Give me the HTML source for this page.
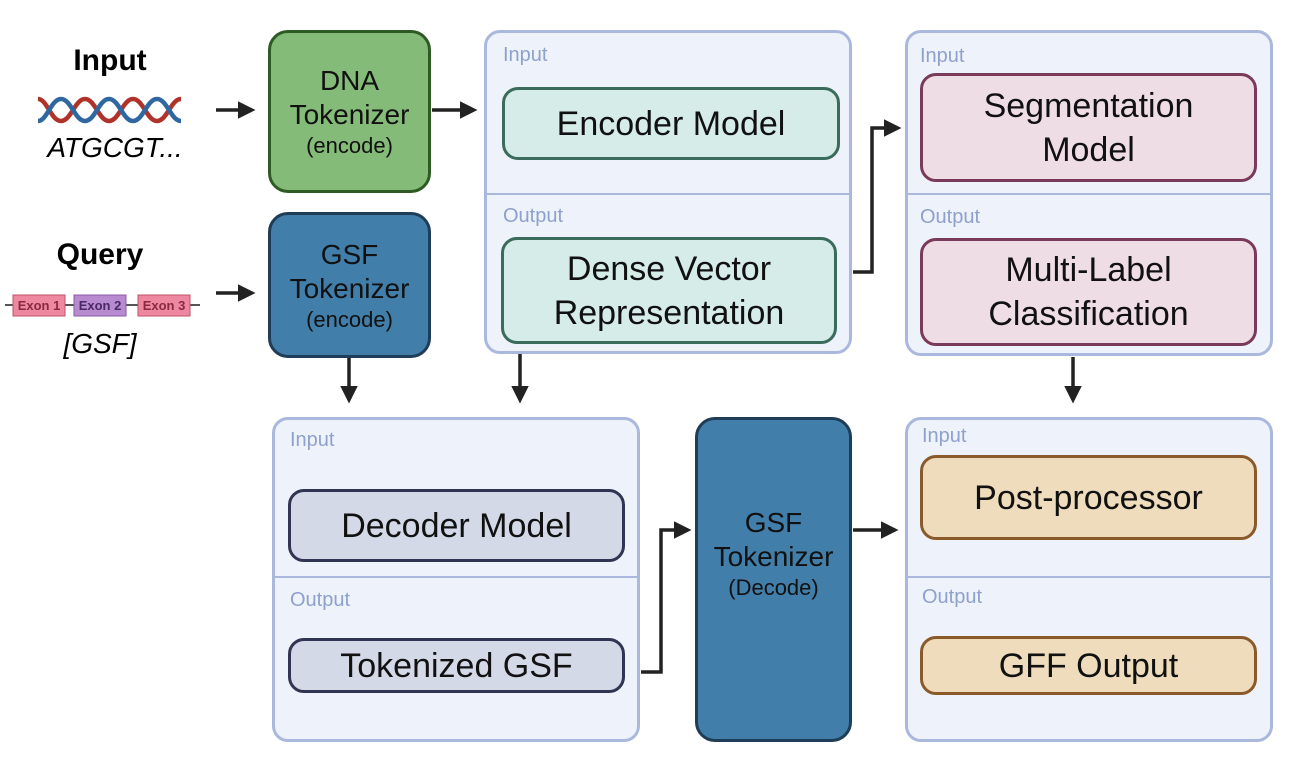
<!DOCTYPE html>
<html><head><style>
body{margin:0;width:1294px;height:770px;background:#fff;position:relative;overflow:hidden;font-family:"Liberation Sans",sans-serif;}
.a{position:absolute;box-sizing:border-box;}
.panel{background:#eef2fa;border:3px solid #a9b8dc;border-radius:16px;}
.div{position:absolute;left:0;right:0;height:0;border-top:2.5px solid #a9b8dc;}
.lab{position:absolute;color:#8ea0cc;font-size:20px;}
.box{display:flex;align-items:center;justify-content:center;text-align:center;border-width:3px;border-style:solid;border-radius:16px;font-size:34px;line-height:44px;color:#111;}
.tok{display:flex;flex-direction:column;align-items:center;justify-content:center;text-align:center;border:3px solid;border-radius:20px;color:#111;font-size:28px;line-height:34px;}
.tok small{font-size:22px;line-height:27px;}
</style></head><body>
<div class="a" style="left:40px;top:44px;width:140px;text-align:center;font-weight:bold;font-size:30px">Input</div>
<svg class="a" style="left:37px;top:94px" width="146" height="32">
<path d="M1 5 C10 5 14 27 24 27 C34 27 38 5 48 5 C58 5 62 27 72 27 C82 27 86 5 96 5 C106 5 110 27 120 27 C130 27 134 5 144 5" stroke="#b0332a" stroke-width="4.5" fill="none"/>
<path d="M1 27 C10 27 14 5 24 5 C34 5 38 27 48 27 C58 27 62 5 72 5 C82 5 86 27 96 27 C106 27 110 5 120 5 C130 5 134 27 144 27" stroke="#2f67a0" stroke-width="4.5" fill="none"/></svg>
<div class="a" style="left:30px;top:132px;width:170px;text-align:center;font-style:italic;font-size:28px">ATGCGT...</div>
<div class="a" style="left:30px;top:238px;width:140px;text-align:center;font-weight:bold;font-size:30px">Query</div>
<svg class="a" style="left:4px;top:289px" width="196" height="32">
<line x1="1" y1="16" x2="196" y2="16" stroke="#555" stroke-width="2"/>
<rect x="9" y="6" width="52" height="21" fill="#ee88a0" stroke="#c0506a"/><text x="35" y="21" font-size="13" font-weight="bold" text-anchor="middle" fill="#8a2a40" font-family="Liberation Sans">Exon 1</text>
<rect x="70" y="6" width="52" height="21" fill="#b88ad0" stroke="#8a5aa8"/><text x="96" y="21" font-size="13" font-weight="bold" text-anchor="middle" fill="#4a2a66" font-family="Liberation Sans">Exon 2</text>
<rect x="134" y="6" width="52" height="21" fill="#ee88a0" stroke="#c0506a"/><text x="160" y="21" font-size="13" font-weight="bold" text-anchor="middle" fill="#8a2a40" font-family="Liberation Sans">Exon 3</text></svg>
<div class="a" style="left:30px;top:328px;width:140px;text-align:center;font-style:italic;font-size:28px">[GSF]</div>

<div class="a tok" style="left:268px;top:30px;width:163px;height:163px;background:#84bb78;border-color:#2e5a24"><span>DNA</span><span>Tokenizer</span><small>(encode)</small></div>
<div class="a tok" style="left:268px;top:212px;width:163px;height:146px;background:#427eaa;border-color:#1f3d57"><span>GSF</span><span>Tokenizer</span><small>(encode)</small></div>

<div class="a panel" style="left:484px;top:30px;width:368px;height:324px"><div class="div" style="top:160px"></div><div class="lab" style="left:16px;top:11px">Input</div><div class="lab" style="left:16px;top:172px">Output</div></div>
<div class="a box" style="left:502px;top:87px;width:338px;height:73px;background:#d5ece8;border-color:#3a6b5b">Encoder Model</div>
<div class="a box" style="left:501px;top:237px;width:336px;height:107px;background:#d5ece8;border-color:#3a6b5b">Dense Vector<br>Representation</div>

<div class="a panel" style="left:905px;top:30px;width:368px;height:326px"><div class="div" style="top:160px"></div><div class="lab" style="left:12px;top:12px">Input</div><div class="lab" style="left:12px;top:173px">Output</div></div>
<div class="a box" style="left:920px;top:73px;width:337px;height:109px;background:#efdde6;border-color:#7a3a5a">Segmentation<br>Model</div>
<div class="a box" style="left:920px;top:238px;width:337px;height:108px;background:#efdde6;border-color:#7a3a5a">Multi-Label<br>Classification</div>

<div class="a panel" style="left:272px;top:417px;width:368px;height:325px"><div class="div" style="top:156px"></div><div class="lab" style="left:15px;top:9px">Input</div><div class="lab" style="left:15px;top:169px">Output</div></div>
<div class="a box" style="left:288px;top:489px;width:337px;height:73px;background:#d4d9e8;border-color:#2f3552">Decoder Model</div>
<div class="a box" style="left:288px;top:638px;width:337px;height:55px;background:#d4d9e8;border-color:#2f3552">Tokenized GSF</div>

<div class="a tok" style="left:695px;top:417px;width:157px;height:325px;background:#427eaa;border-color:#1f3d57;justify-content:flex-start;padding-top:86px"><span>GSF</span><span>Tokenizer</span><small>(Decode)</small></div>

<div class="a panel" style="left:905px;top:417px;width:368px;height:325px"><div class="div" style="top:156px"></div><div class="lab" style="left:14px;top:5px">Input</div><div class="lab" style="left:14px;top:166px">Output</div></div>
<div class="a box" style="left:920px;top:455px;width:337px;height:85px;background:#eedcbc;border-color:#8a5a2a">Post-processor</div>
<div class="a box" style="left:920px;top:636px;width:337px;height:59px;background:#eedcbc;border-color:#8a5a2a">GFF Output</div>

<svg class="a" style="left:0;top:0" width="1294" height="770">
<defs><marker id="m" markerWidth="5" markerHeight="5" refX="4" refY="2.5" orient="auto" markerUnits="strokeWidth"><path d="M0 0L5 2.5L0 5z" fill="#222"/></marker></defs>
<g stroke="#222" stroke-width="3.5" fill="none" marker-end="url(#m)">
<path d="M216 110H252"/><path d="M216 293H252"/><path d="M432 110H474"/>
<path d="M853 272H872V128H898"/>
<path d="M349 358V400"/><path d="M520 354V400"/><path d="M1073 357V400"/>
<path d="M641 672H661V530H688"/><path d="M853 530H895"/>
</g></svg>
</body></html>
